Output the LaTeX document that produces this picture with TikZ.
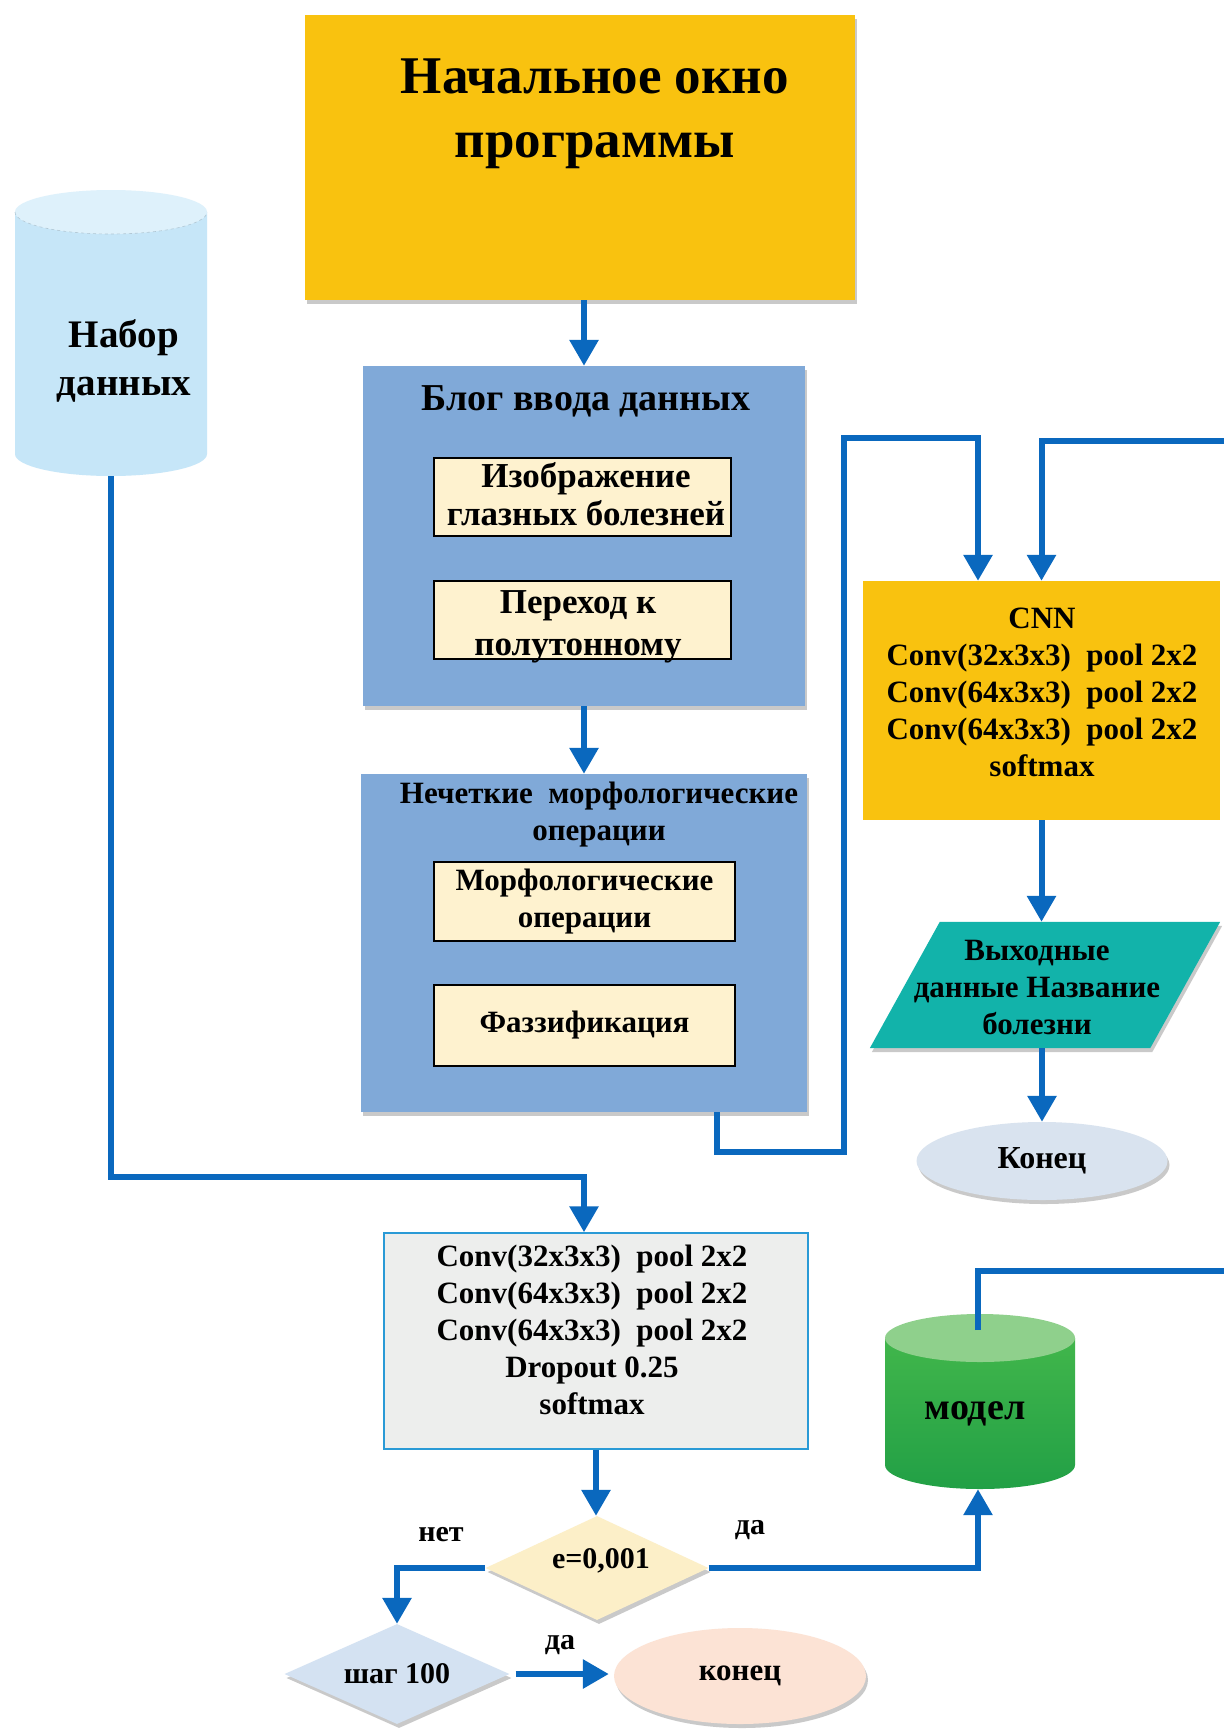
\documentclass[tikz,border=0pt]{standalone}
\usepackage{fontspec}
\setmainfont{Liberation Serif}
\usetikzlibrary{shapes.geometric,arrows.meta,shadows,calc}
\definecolor{gold}{HTML}{F9C20F}
\definecolor{steel}{HTML}{80A9D8}
\definecolor{cream}{HTML}{FEF2CF}
\definecolor{skyc}{HTML}{C6E6F8}
\definecolor{skytop}{HTML}{DEF1FB}
\definecolor{tealc}{HTML}{12B3AA}
\definecolor{endgray}{HTML}{D9E3EF}
\definecolor{convgray}{HTML}{EDEEED}
\definecolor{convborder}{HTML}{2A9AD6}
\definecolor{diacream}{HTML}{FCEFC8}
\definecolor{diablue}{HTML}{D4E2F2}
\definecolor{peach}{HTML}{FCE3D5}
\definecolor{greenA}{HTML}{41B64B}
\definecolor{greenB}{HTML}{22A046}
\definecolor{greentop}{HTML}{8FD08C}
\definecolor{arrowblue}{HTML}{0A68BE}
\newcommand\fsz[2]{\fontsize{#1}{#2}\selectfont}
\tikzset{
  rect/.style={rectangle, inner sep=0pt, draw=none},
  shad/.style={drop shadow={shadow xshift=2pt, shadow yshift=-4pt, opacity=0.35, fill=black!60}},
  txt/.style={align=center, text=black, inner sep=0pt, font=\bfseries\fsz{31}{37}},
  inbox/.style={rect, draw=black, line width=1.5pt, fill=cream, align=center, font=\bfseries\fsz{31}{37}},
  conn/.style={draw=arrowblue, line width=6pt},
  arr/.style={conn, -{Triangle[length=26pt,width=28pt]}},
}
\begin{document}
\begin{tikzpicture}[x=1pt,y=-1pt]
\fill[white] (0,0) rectangle (1224,1729);
\useasboundingbox (0,0) rectangle (1224,1729);

% start window
\node[rect, fill=gold, shad, minimum width=550, minimum height=285] (start) at (580,157.5) {};
\node[txt, font=\bfseries\fsz{53}{64}] (startt) at (595,114) {Начальное окно\\программы};

% data set cylinder
\fill[skyc] (15,212) -- (15,454) arc[x radius=96, y radius=22, start angle=180, end angle=0] -- (207,212) -- cycle;
\fill[skytop] (111,212) ellipse [x radius=96, y radius=22];
\draw[skyc!70!gray, line width=0.6pt, dashed] (15,212) arc[x radius=96, y radius=22, start angle=180, end angle=0];
\node[rect, minimum width=192, minimum height=286] (data) at (111,333) {};
\node[txt, font=\bfseries\fsz{39}{48}] (datat) at (124,361) {Набор\\данных};

% input block
\node[rect, fill=steel, shad, minimum width=442, minimum height=340] (b1) at (584,536) {};
\node[txt, font=\bfseries\fsz{38}{40}] (b1t) at (586,401) {Блог ввода данных};
\node[inbox, minimum width=297, minimum height=78] (ib1) at (582.5,497) {};
\node[txt, font=\bfseries\fsz{35}{38}] (ib1t) at (586,494) {Изображение\\глазных болезней};
\node[inbox, minimum width=297, minimum height=78] (ib2) at (582.5,620) {};
\node[txt, font=\bfseries\fsz{35}{42}] (ib2t) at (578,627) {Переход к\\полутонному};

% fuzzy morphology block
\node[rect, fill=steel, shad, minimum width=446, minimum height=338] (b2) at (584,943) {};
\node[txt] (b2t) at (599,815) {Нечеткие\ \ морфологические\\операции};
\node[inbox, minimum width=301, minimum height=79] (ib3) at (584.5,901.5) {Морфологические\\операции};
\node[inbox, minimum width=301, minimum height=81] (ib4) at (584.5,1025.5) {Фаззификация};

% CNN
\node[rect, fill=gold, minimum width=357, minimum height=239] (cnn) at (1041.5,700.5) {};
\node[txt] (cnnt) at (1042,692) {CNN\\Conv(32x3x3)\ \ pool 2x2\\Conv(64x3x3)\ \ pool 2x2\\Conv(64x3x3)\ \ pool 2x2\\softmax};

% output parallelogram
\node[rect, minimum width=280, minimum height=126] (out) at (1045,985) {};
\fill[tealc, shad] ([xshift=-35pt]out.south west) -- ([xshift=-35pt]out.south east) -- ([xshift=35pt]out.north east) -- ([xshift=35pt]out.north west) -- cycle;
\node[txt] (outt) at (1037,987) {Выходные\\данные Название\\болезни};

% end 1
\node[ellipse, fill=endgray, shad, minimum width=251, minimum height=78, inner sep=0pt, txt, font=\bfseries\fsz{32}{36}] (end1) at (1042,1161) {Конец};

% conv block
\node[rect, fill=convgray, draw=convborder, line width=1.5pt, minimum width=424, minimum height=216] (conv) at (596,1341) {};
\node[txt] (convt) at (592,1329.5) {Conv(32x3x3)\ \ pool 2x2\\Conv(64x3x3)\ \ pool 2x2\\Conv(64x3x3)\ \ pool 2x2\\Dropout 0.25\\softmax};

% decisions
\node[diamond, fill=diacream, shad, aspect=2.14, inner sep=0pt, minimum width=223, minimum height=104] (dia1) at (597,1568) {};
\node[txt, font=\bfseries\fsz{30}{34}] (dia1t) at (601,1561) {e=0,001};
\node[diamond, fill=diablue, shad, aspect=2.25, inner sep=0pt, minimum width=225, minimum height=100, txt, font=\bfseries\fsz{30}{34}] (dia2) at (397,1674) {шаг 100};
\node[ellipse, fill=peach, shad, minimum width=252, minimum height=96, inner sep=0pt, txt, font=\bfseries\fsz{31}{34}] (end2) at (740,1676) {конец};

% model cylinder
\shade[top color=greenA, bottom color=greenB] (885,1338) -- (885,1465) arc[x radius=95, y radius=24, start angle=180, end angle=0] -- (1075,1338) -- cycle;
\fill[greentop] (980,1338) ellipse [x radius=95, y radius=24];
\node[rect, minimum width=190, minimum height=175] (model) at (980,1401.5) {};
\node[txt, font=\bfseries\fsz{38}{40}] (modelt) at (975,1414) {модел};

% labels
\node[txt, font=\bfseries\fsz{30}{32}] (lno) at (441,1535) {нет};
\node[txt, font=\bfseries\fsz{30}{32}] (lyes1) at (750,1530) {да};
\node[txt, font=\bfseries\fsz{30}{32}] (lyes2) at (560,1645) {да};

% free ends
\coordinate (edge1) at (1224,441);
\coordinate (edge2) at (1224,1271);
\coordinate (mtop) at (978,1330);

% connectors
\draw[arr] ([xshift=4pt]start.south) -- ([xshift=4pt]start.south |- b1.north);
\draw[arr] (b1.south) -- (b2.north);
\draw[arr] (data.south) |- ([xshift=-12pt,yshift=55pt]conv.north) -- ([xshift=-12pt]conv.north);
\draw[arr] ([xshift=133pt]b2.south) |- (844,1152) |- (978,438) -- ([xshift=-63.5pt]cnn.north);
\draw[arr] (edge1) -| (cnn.north);
\draw[arr] (cnn.south) -- (cnn.south |- out.north);
\draw[arr] (out.south -| end1.north) -- (end1.north);
\draw[arr] (conv.south) -- (conv.south |- dia1.north);
\draw[arr] (dia1.west) -| (dia2.north);
\draw[arr, shorten <=6pt, shorten >=5pt] (dia2.east) -- (dia2.east -| end2.west);
\draw[arr] (dia1.east) -| ([xshift=-2pt]model.south);
\draw[conn] (mtop) |- (edge2);
\end{tikzpicture}
\end{document}
